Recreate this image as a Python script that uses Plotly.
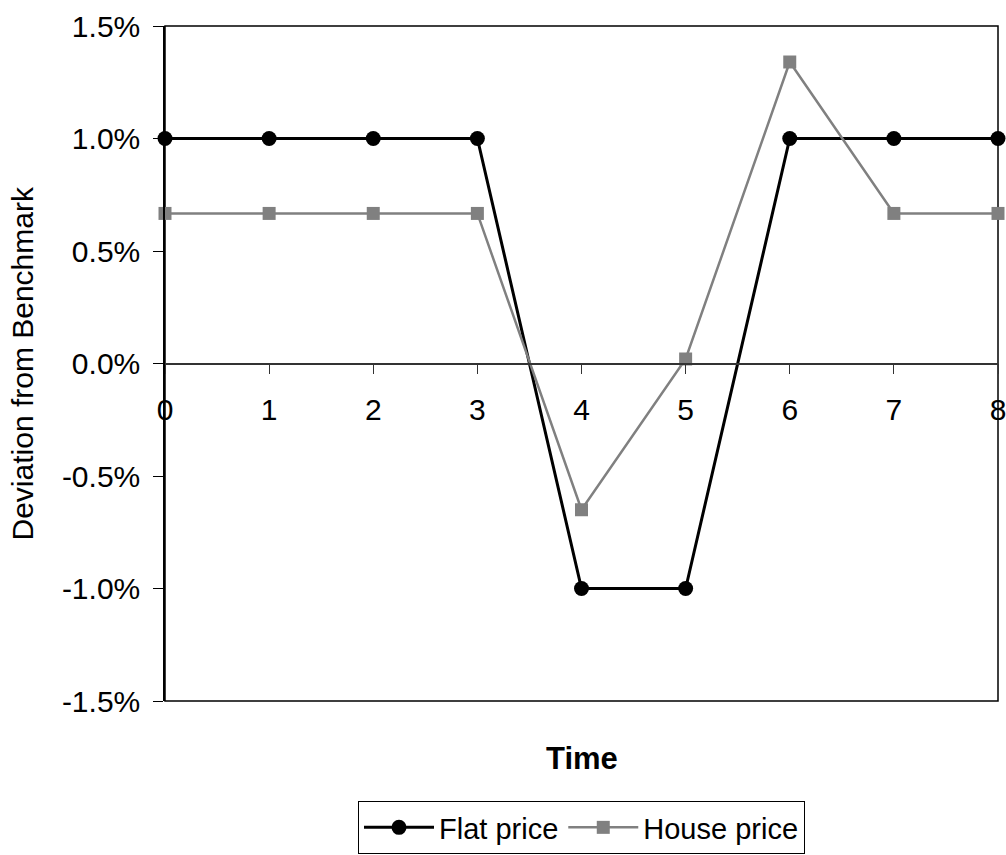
import plotly.graph_objects as go

time = [0, 1, 2, 3, 4, 5, 6, 7, 8]
flat_price = [0.01, 0.01, 0.01, 0.01, -0.01, -0.01, 0.01, 0.01, 0.01]
house_price = [0.00667, 0.00667, 0.00667, 0.00667, -0.0065, 0.0002, 0.0134, 0.00667, 0.00667]
y_tickvals = [-0.015, -0.01, -0.005, 0.0, 0.005, 0.01, 0.015]
y_ticktext = ["-1.5%", "-1.0%", "-0.5%", "0.0%", "0.5%", "1.0%", "1.5%"]
x_ticktext = ["0", "1", "2", "3", "4", "5", "6", "7", "8"]

FONT = "Liberation Sans, Arial, sans-serif"
W, H = 1006, 855
L, R, T, B = 165, 8, 26, 154
PW, PH = W - L - R, H - T - B

fig = go.Figure()
fig.add_trace(go.Scatter(
    x=time, y=flat_price, name="Flat price", mode="lines+markers",
    line=dict(color="black", width=3),
    marker=dict(symbol="circle", size=15, color="black"),
    cliponaxis=False,
))
fig.add_trace(go.Scatter(
    x=time, y=house_price, name="House price", mode="lines+markers",
    line=dict(color="#808080", width=2.5),
    marker=dict(symbol="square", size=13, color="#808080"),
    cliponaxis=False,
))

fig.update_layout(
    width=W, height=H,
    margin=dict(l=L, r=R, t=T, b=B, autoexpand=False),
    paper_bgcolor="white", plot_bgcolor="white",
    font=dict(family=FONT, size=30, color="black"),
    showlegend=True,
    legend=dict(
        orientation="h", x=0.5, xanchor="center",
        y=-(801 - (H - B)) / PH, yanchor="top",
        bordercolor="black", borderwidth=1, font=dict(size=29),
        itemwidth=70, tracegroupgap=0,
    ),
    xaxis=dict(
        range=[0, 8], tickvals=time, ticktext=x_ticktext,
        anchor="free", position=0.5,
        showline=True, linecolor="#333333", linewidth=1.5,
        ticks="outside", ticklen=10, tickcolor="#333333", tickwidth=1,
        showgrid=False, zeroline=False, automargin=False,
        tickfont=dict(size=30), ticklabelstandoff=10,
        ticklabeloverflow="allow",
    ),
    yaxis=dict(
        range=[-0.015, 0.015], tickvals=y_tickvals, ticktext=y_ticktext,
        showline=True, linecolor="black", linewidth=1.5,
        ticks="outside", ticklen=10, tickcolor="black",
        showgrid=False, zeroline=False, automargin=False,
        tickfont=dict(size=30), ticklabelstandoff=7,
    ),
    shapes=[dict(type="rect", xref="x domain", yref="y domain",
                 x0=0, x1=1, y0=0, y1=1, line=dict(color="black", width=1.5),
                 layer="below")],
    annotations=[
        dict(text="<b>Time</b>", xref="paper", yref="paper", x=0.5,
             y=-(758 - (H - B)) / PH,
             xanchor="center", yanchor="middle", showarrow=False,
             font=dict(size=31)),
        dict(text="Deviation from Benchmark", xref="paper", yref="paper",
             x=(22 - L) / PW, y=0.5, xanchor="center", yanchor="middle",
             textangle=-90, showarrow=False, font=dict(size=30)),
    ],
)

fig.write_html("out.html", config={"displayModeBar": False},
               post_script="document.body.style.margin='0';")
